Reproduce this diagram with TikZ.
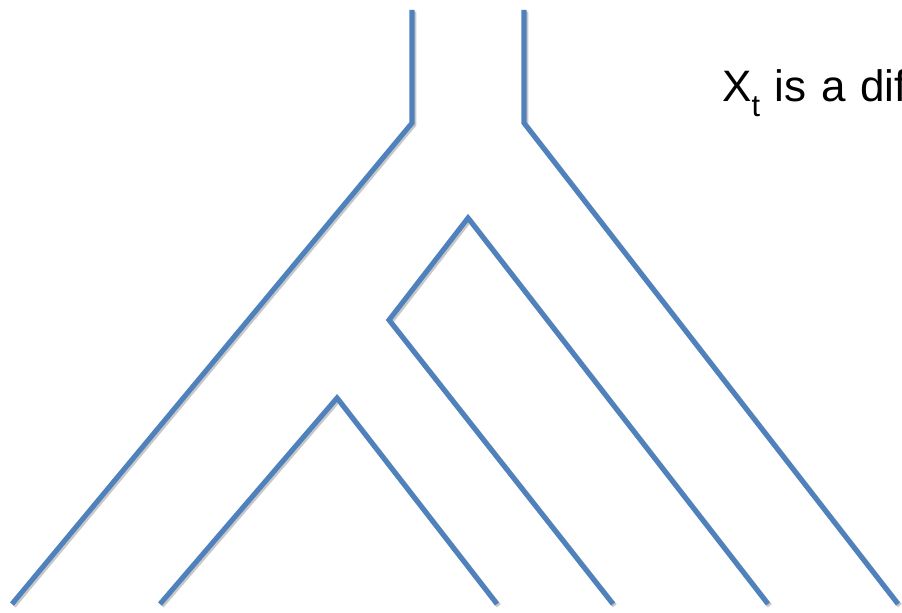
\documentclass[tikz,border=0pt]{standalone}
\usepackage{fontspec}
\setmainfont{Liberation Sans}
\usetikzlibrary{positioning}
\definecolor{treeblue}{RGB}{79,129,189}
\definecolor{treeshadow}{RGB}{200,200,200}
\newcommand{\capfont}{\fontsize{33}{40}\selectfont\spaceskip=11pt\relax}
\newcommand{\lowsub}[1]{\raisebox{-11pt}{\fontsize{23}{26}\selectfont #1}}

\begin{document}
\begin{tikzpicture}[
  x=0.75pt,y=-0.75pt,
  branch/.style={line width=3.8pt,draw=treeblue,line join=miter,
    preaction={draw=treeshadow,line width=3.8pt,transform canvas={xshift=1.3pt,yshift=-1.3pt}}},
  caption/.style={anchor=base west,inner sep=0pt,font=\capfont}]
  \useasboundingbox (0,0) rectangle (902,613);
  \clip (0,0) rectangle (902,613);
  % tube ends at the top
  \coordinate (topL) at (412,10);
  \coordinate (topR) at (524,10);
  \coordinate (kneeL) at (412,123);
  \coordinate (kneeR) at (524,123);
  % inner splits
  \coordinate (peak) at (468,218);
  \coordinate (notch) at (389,320);
  \coordinate (small) at (337,398);
  % leaves
  \coordinate (leafA) at (12,604);
  \coordinate (leafB) at (160,604);
  \coordinate (leafC) at (497,604);
  \coordinate (leafD) at (613,604);
  \coordinate (leafE) at (768,604);
  \coordinate (leafF) at (898,604);
  \draw[branch] (topL) -- (kneeL) -- (leafA);
  \draw[branch] (topR) -- (kneeR) -- (leafF);
  \draw[branch] (leafD) -- (notch) -- (peak) -- (leafE);
  \draw[branch] (leafB) -- (small) -- (leafC);
  \node[caption] (label) at (722,102) {X\lowsub{t} is a dif};
\end{tikzpicture}
\end{document}
